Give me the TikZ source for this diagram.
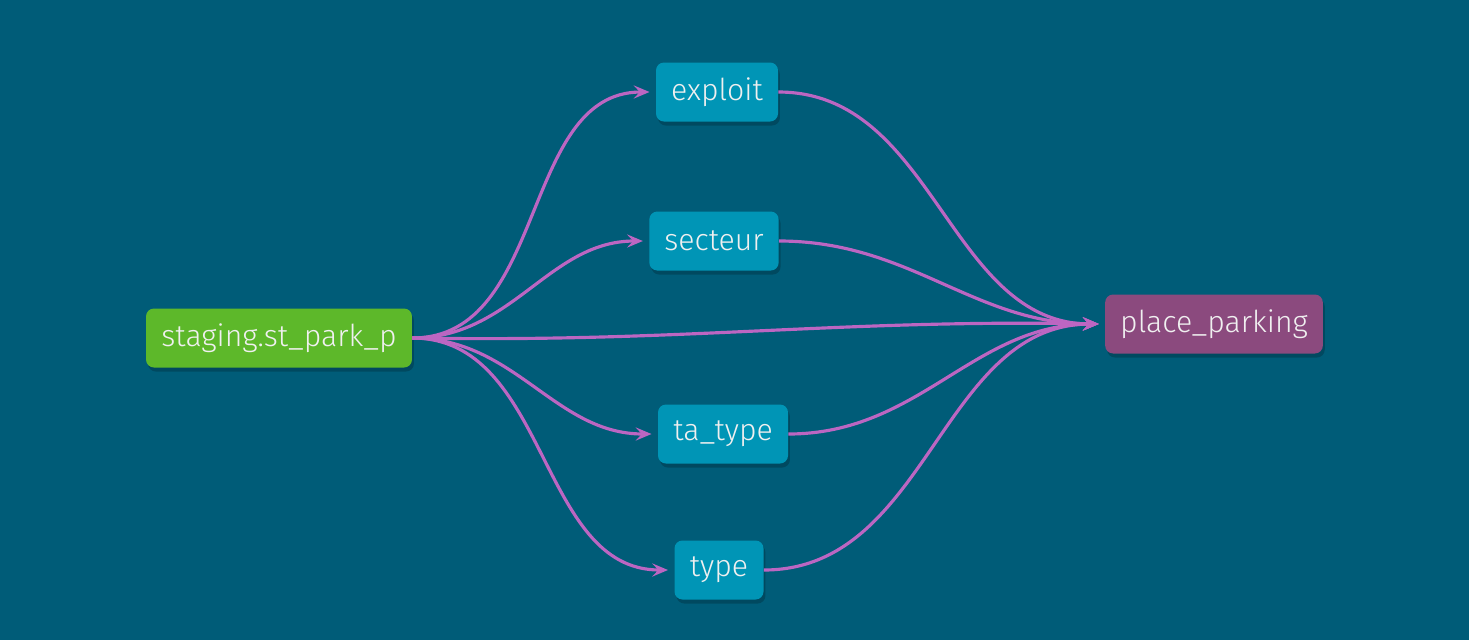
\documentclass[tikz,border=0pt]{standalone}
\usepackage{fontspec}
\setmainfont{Fira Sans}[UprightFont={* Light}]
\usetikzlibrary{arrows.meta,shadows}

\definecolor{bgBlue}{RGB}{0,92,120}
\definecolor{srcGreen}{RGB}{93,184,42}
\definecolor{midTeal}{RGB}{0,149,182}
\definecolor{sinkPurple}{RGB}{139,74,126}
\definecolor{edgePink}{RGB}{188,102,194}

\begin{document}
\begin{tikzpicture}[x=0.02cm,y=-0.02cm,shorten >=3.5pt]
	\fill[bgBlue] (0,0) rectangle (1469,640);
	\useasboundingbox (0,0) rectangle (1469,640);
	
	\tikzstyle{model}=[rounded corners=4.5pt,minimum height=1.18cm,inner xsep=0.3cm,text=white!94!black,font=\fontsize{17.2}{20}\selectfont,drop shadow={shadow xshift=1.1pt,shadow yshift=-2.3pt,fill=black,opacity=0.2}]
	\tikzstyle{flow}=[draw=edgePink,line width=1.8pt,-{Stealth[length=9pt,width=7.5pt,inset=3.5pt]}]
	
	\node[model,fill=srcGreen,minimum width=5.32cm](staging) at (279,338){staging.st\_park\_p};
	
	\node[model,fill=midTeal,minimum width=2.44cm](exploit) at (717,92){exploit};
	\node[model,fill=midTeal,minimum width=2.58cm](secteur) at (714,241){secteur};
	\node[model,fill=midTeal,minimum width=2.6cm](taType) at (723,434){ta\_type};
	\node[model,fill=midTeal,minimum width=1.78cm](type) at (719,570){type};
	
	\node[model,fill=sinkPurple,minimum width=4.28cm](place) at (1214,324){place\_parking};
	
	\draw[flow] (staging.east) to[out=0,in=180] (exploit.west);
	\draw[flow] (staging.east) to[out=0,in=180] (secteur.west);
	\draw[flow] (staging.east) to[out=0,in=180] (taType.west);
	\draw[flow] (staging.east) to[out=0,in=180] (type.west);
	\draw[flow] (staging.east) to[out=-1,in=179] (place.west);
	
	\draw[flow] (exploit.east) to[out=0,in=180] (place.west);
	\draw[flow] (secteur.east) to[out=0,in=180] (place.west);
	\draw[flow] (taType.east) to[out=0,in=180] (place.west);
	\draw[flow] (type.east) to[out=0,in=180] (place.west);
	
\end{tikzpicture}
\end{document}
